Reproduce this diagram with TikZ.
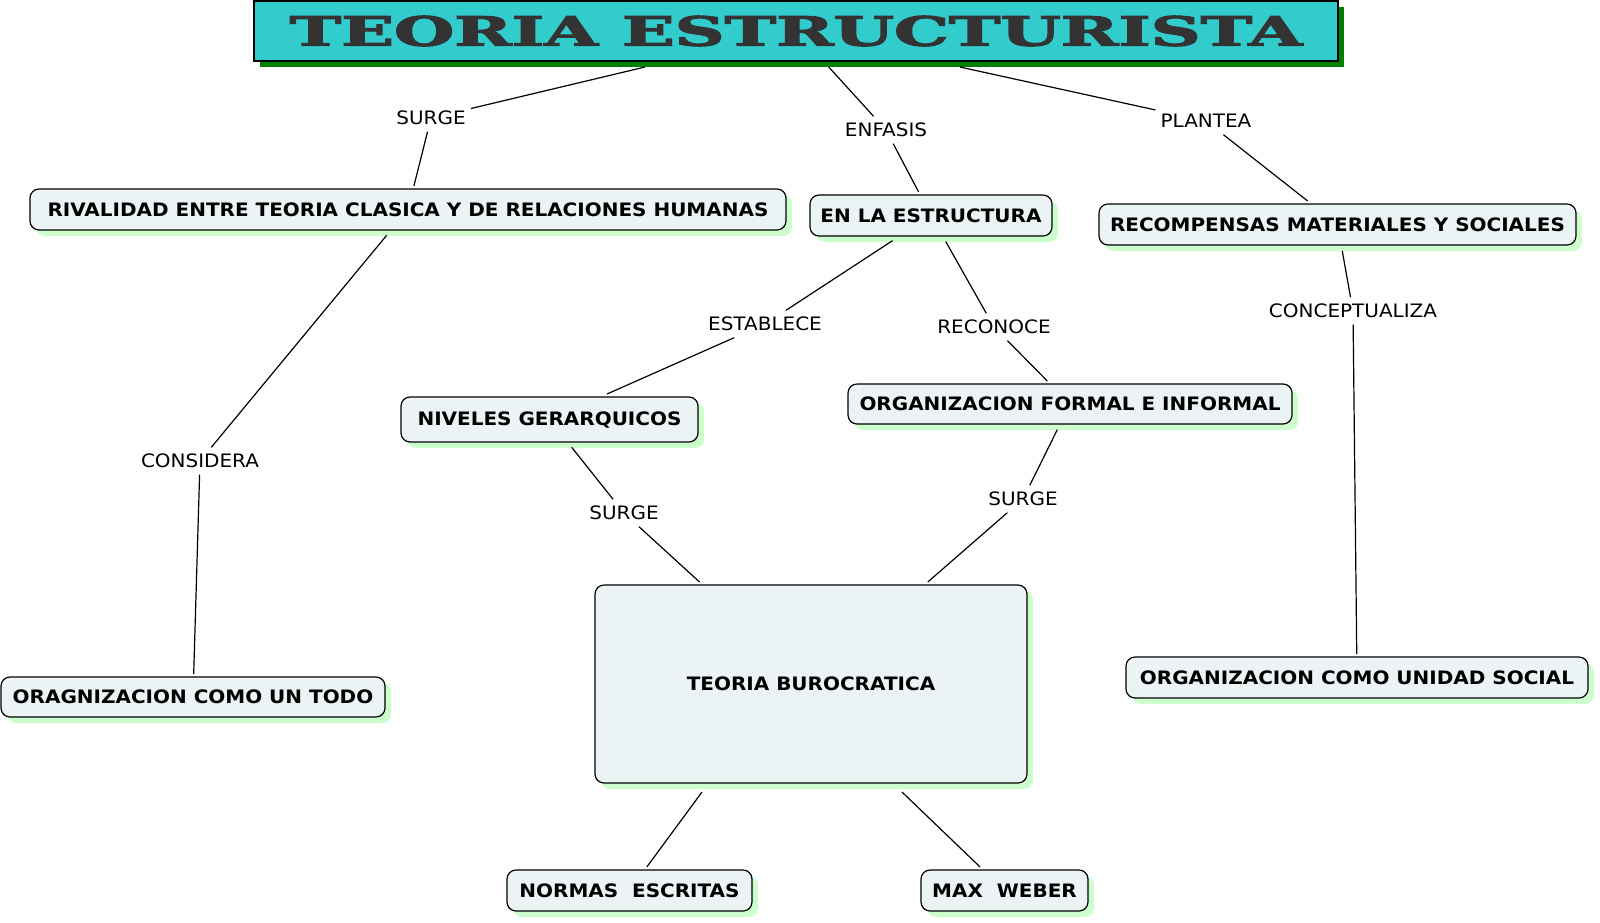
\documentclass[tikz,border=0pt]{standalone}
\usepackage{fontspec}
\usepackage{graphicx}
\setmainfont{DejaVu Sans}[FakeStretch=1.08]
\newfontfamily\titlefont{DejaVu Serif}[BoldFeatures={FakeBold=2.5}]
\usetikzlibrary{calc,shadows}
\definecolor{boxfill}{RGB}{236,243,245}
\definecolor{boxshadow}{RGB}{204,255,204}
\definecolor{titlefill}{RGB}{51,204,204}
\definecolor{titleshadow}{RGB}{0,128,0}
\definecolor{titletext}{RGB}{51,51,51}
\begin{document}
\begin{tikzpicture}[x=1pt,y=-1pt,
  concept/.style={draw=black, line width=1.2pt, rounded corners=9pt, fill=boxfill,
    general shadow={fill=boxshadow, shadow xshift=6pt, shadow yshift=-6pt},
    inner sep=0pt, outer sep=3pt, minimum height=41pt, font=\fontsize{18.5}{22}\selectfont\bfseries},
  titlebox/.style={draw=black, line width=1.3pt, fill=titlefill,
    general shadow={fill=titleshadow, shadow xshift=6pt, shadow yshift=-6pt},
    inner sep=0pt, outer sep=6pt, text=titletext},
  lab/.style={font=\fontsize{18.5}{22}\selectfont, inner xsep=5pt, inner ysep=7pt,
    text height=13pt, text depth=0pt},
  conn/.style={line width=1.2pt, black}
]
\useasboundingbox (0,0) rectangle (1600,922);

% title
\node[titlebox, minimum width=1084pt, minimum height=60pt] (title) at (796,31)
  {\resizebox{1012pt}{30pt}{\titlefont\bfseries TEORIA ESTRUCTURISTA}};

% concepts
\node[concept, minimum width=756pt] (rival) at (408,209.5) {RIVALIDAD ENTRE TEORIA CLASICA Y DE RELACIONES HUMANAS};
\node[concept, minimum width=242pt] (enla) at (931,215.5) {EN LA ESTRUCTURA};
\node[concept, minimum width=477pt] (recomp) at (1337.5,224.5) {RECOMPENSAS MATERIALES Y SOCIALES};
\node[concept, minimum width=297pt, minimum height=45pt] (niveles) at (549.5,419.5) {NIVELES GERARQUICOS};
\node[concept, minimum width=444pt, minimum height=40pt] (orgformal) at (1070,404) {ORGANIZACION FORMAL E INFORMAL};
\node[concept, minimum width=384pt, minimum height=40pt] (orag) at (193,697) {ORAGNIZACION COMO UN TODO};
\node[concept, minimum width=432pt, minimum height=198pt] (teoria) at (811,684) {TEORIA BUROCRATICA};
\node[concept, minimum width=462pt] (unidad) at (1357,677.5) {ORGANIZACION COMO UNIDAD SOCIAL};
\node[concept, minimum width=245pt] (normas) at (629.5,890.5) {NORMAS\ \ ESCRITAS};
\node[concept, minimum width=167pt] (max) at (1004.5,890.5) {MAX\ \ WEBER};

% labels
\node[lab] (l1) at (431,118) {SURGE};
\node[lab] (l2) at (886,130) {ENFASIS};
\node[lab] (l3) at (1206,121) {PLANTEA};
\node[lab] (l4) at (765,324) {ESTABLECE};
\node[lab] (l5) at (994,327) {RECONOCE};
\node[lab] (l6) at (1353,311) {CONCEPTUALIZA};
\node[lab] (l7) at (200,461) {CONSIDERA};
\node[lab] (l8) at (624,513) {SURGE};
\node[lab] (l9) at (1023,499) {SURGE};

% connectors
\draw[conn] (title) -- (l1);
\draw[conn] (l1) -- (rival);
\draw[conn] (title) -- (l2);
\draw[conn] (l2) -- (enla);
\draw[conn] (title) -- (l3);
\draw[conn] (l3) -- (recomp);
\draw[conn, shorten <=3pt] (enla) -- (l4);
\draw[conn] (l4) -- (niveles);
\draw[conn, shorten <=3pt] (enla) -- (l5);
\draw[conn] (l5) -- (orgformal);
\draw[conn, shorten <=3pt] (recomp) -- (l6);
\draw[conn] (l6) -- (unidad);
\draw[conn, shorten <=3pt] (rival) -- (l7);
\draw[conn] (l7) -- (orag);
\draw[conn, shorten <=3pt] (niveles) -- (l8);
\draw[conn] (l8) -- (teoria);
\draw[conn, shorten <=3pt] (orgformal) -- (l9);
\draw[conn] (l9) -- (teoria);
\draw[conn] ($(teoria.south)+(-109,6)$) -- (normas);
\draw[conn] ($(teoria.south)+(91,6)$) -- (max);
\end{tikzpicture}
\end{document}
